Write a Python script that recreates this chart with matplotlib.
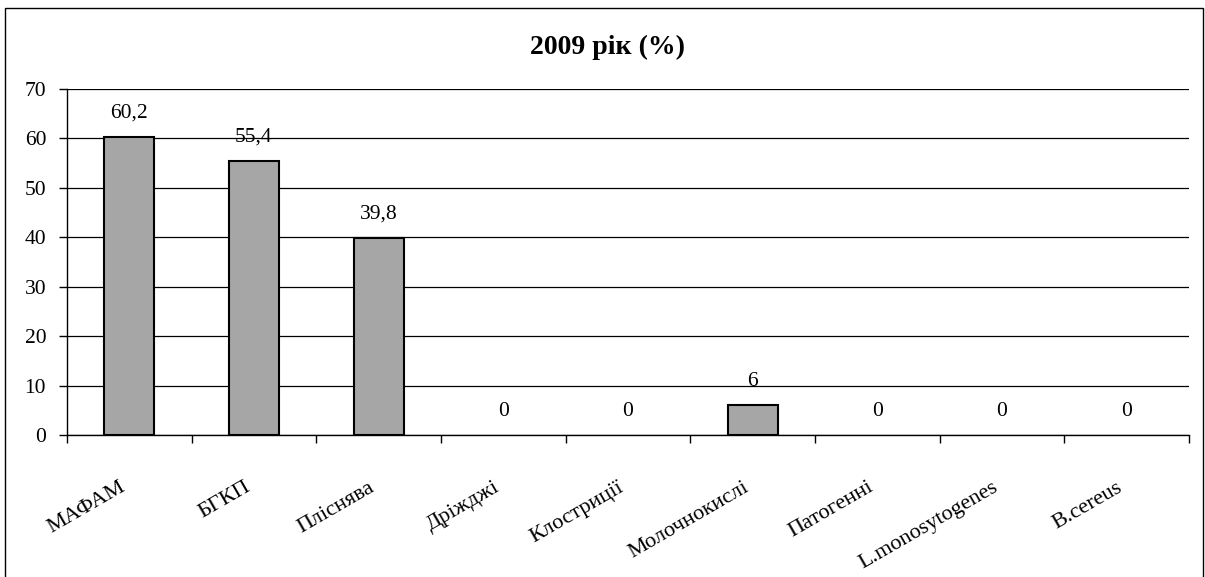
import matplotlib
matplotlib.use("Agg")
import matplotlib.pyplot as plt
import matplotlib.transforms as mtransforms
from matplotlib.patches import Rectangle
import numpy as np

categories = ["МАФАМ", "БГКП", "Пліснява", "Дріжджі", "Клостриції",
              "Молочнокислі", "Патогенні", "L.monosytogenes", "B.cereus"]
values = [60.2, 55.4, 39.8, 0, 0, 6, 0, 0, 0]
value_labels = ["60,2", "55,4", "39,8", "0", "0", "6", "0", "0", "0"]
yticks = [0, 10, 20, 30, 40, 50, 60, 70]
title = "2009 рік (%)"

plt.rcParams["font.family"] = ["Liberation Serif", "DejaVu Serif"]

W, H = 1205, 577
fig = plt.figure(figsize=(W / 100, H / 100), dpi=100)
fig.patch.set_facecolor("white")

# outer chart frame
fig.add_artist(Rectangle((5 / W, -0.01), 1198 / W, 1 - 8 / H + 0.01,
                         transform=fig.transFigure, fill=False,
                         edgecolor="black", linewidth=1.0))

ax = fig.add_axes([67 / W, 1 - 435 / H, (1189 - 67) / W, (435 - 89) / H])
x = np.arange(len(categories))
edge_widths = [1.5 if v > 0 else 0 for v in values]
ax.bar(x, values, width=0.4, color="#a6a6a6", edgecolor="black",
       linewidth=edge_widths, zorder=3)

for xi, v, lab in zip(x, values, value_labels):
    ax.annotate(lab, (xi, v), xytext=(0, 14), textcoords="offset points",
                ha="center", va="baseline", fontsize=15.5)

ax.set_xlim(-0.5, len(categories) - 0.5)
ax.set_ylim(0, 70)
ax.set_yticks(yticks)
ax.set_yticklabels([str(t) for t in yticks], fontsize=15.5)
ax.yaxis.grid(True, color="black", linewidth=0.9)
ax.set_axisbelow(True)

ax.set_xticks(x)
ax.set_xticklabels(categories, fontsize=16, rotation=30, ha="right",
                   rotation_mode="anchor")
ax.tick_params(axis="x", length=0, pad=31)
shift = mtransforms.ScaledTranslation(-10 / 100, 0, fig.dpi_scale_trans)
for lbl in ax.get_xticklabels():
    lbl.set_transform(lbl.get_transform() + shift)
ax.set_xticks(np.arange(len(categories) + 1) - 0.5, minor=True)
ax.tick_params(axis="x", which="minor", length=6, width=1, direction="out")
ax.tick_params(axis="y", length=6, width=1, direction="out", pad=9)

for s in ["top", "right"]:
    ax.spines[s].set_visible(False)
ax.spines["left"].set_linewidth(1)
ax.spines["bottom"].set_linewidth(1)

fig.text(607 / W, 1 - 47 / H, title, ha="center", va="center",
         fontsize=20, fontweight="bold")

fig.savefig("out.png", dpi=100)
